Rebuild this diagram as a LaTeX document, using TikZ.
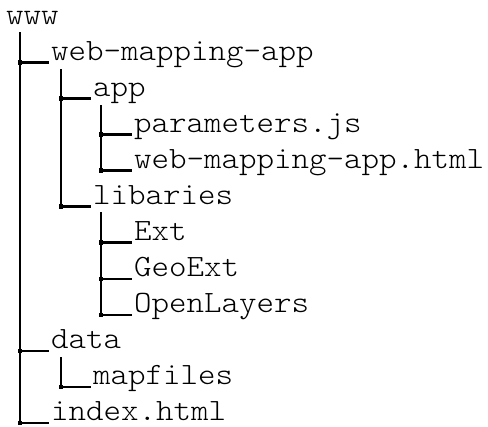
\documentclass[tikz,border=0pt]{standalone}
\usepackage{fontspec}
\setmonofont[FakeStretch=1.075]{Latin Modern Mono Light}
\begin{document}
\begin{tikzpicture}[x=1pt,y=-1pt,
  entry/.style={font=\ttfamily\fontsize{31}{31}\selectfont, inner sep=0pt, anchor=base west},
  tline/.style={line width=2.2pt, line cap=rect},
  junc/.style={fill=black}]
\useasboundingbox (0,0) rectangle (488,427);
% texts
\node[entry] (www)  at (6,25)   {www};
\node[entry] (wma)  at (51,60.5)  {web-mapping-app};
\node[entry] (app)  at (93,96.5)  {app};
\node[entry] (par)  at (134,132.5) {parameters.js};
\node[entry] (html) at (134,168.5) {web-mapping-app.html};
\node[entry] (lib)  at (93,204.5) {libaries};
\node[entry] (ext)  at (134,240.5) {Ext};
\node[entry] (geo)  at (134,277) {GeoExt};
\node[entry] (ol)   at (134,313) {OpenLayers};
\node[entry] (data) at (51,349) {data};
\node[entry] (map)  at (93,385) {mapfiles};
\node[entry] (idx)  at (51,421) {index.html};
% trunk tops
\coordinate (t0) at (20,33);
\coordinate (t1) at (61,70);
\coordinate (t2) at (101,106);
\coordinate (t3) at (101,213);
\coordinate (t4) at (61,358);
% vertical trunks
\draw[tline] (t0) -- ([yshift=-2pt]t0 |- idx.base);
\draw[tline] (t1) -- ([yshift=-2pt]t1 |- lib.base);
\draw[tline] (t2) -- ([yshift=-2pt]t2 |- html.base);
\draw[tline] (t3) -- ([yshift=-2pt]t3 |- ol.base);
\draw[tline] (t4) -- ([yshift=-2pt]t4 |- map.base);
% branches
\foreach \t/\n in {t0/wma,t0/data,t0/idx,t1/app,t1/lib,t2/par,t2/html,t3/ext,t3/geo,t3/ol,t4/map}{
  \draw[tline] ([yshift=-2pt]\t |- \n.base) -- ([xshift=-3pt,yshift=-2pt]\n.base west);
  \fill[junc] ([yshift=-2pt]\t |- \n.base) +(-2.3,-2.3) rectangle +(2.3,2.3);
}
\end{tikzpicture}
\end{document}
